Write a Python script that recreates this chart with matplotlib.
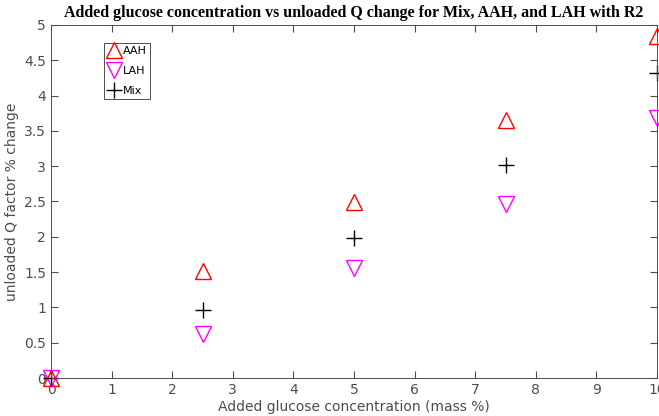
import numpy as np
import matplotlib
matplotlib.use('Agg')
from matplotlib import pyplot as plt

glucose = [0, 2.5, 5, 7.5, 10]  # added glucose (mass %)
aah = [0, 1.51, 2.49, 3.65, 4.85]
lah = [0, 0.63, 1.56, 2.46, 3.68]
mix = [0, 0.97, 1.98, 3.02, 4.32]

fig = plt.figure(figsize=(6.59, 4.16), dpi=100)
ax = fig.add_axes([51/659, 1-378/416, 606/659, 353/416])

ax.plot(glucose, aah, '^', ms=12, mfc='none', mec='red', mew=1, clip_on=False, label='AAH')
ax.plot(glucose, lah, 'v', ms=12, mfc='none', mec='magenta', mew=1, clip_on=False, label='LAH')
ax.plot(glucose, mix, '+', ms=12, color='black', mew=1, clip_on=False, label='Mix')

gray = '#4d4d4d'
ax.set_xlim(0, 10)
ax.set_ylim(0, 5)
ax.set_xticks(np.arange(0, 11, 1))
ax.set_yticks(np.arange(0, 5.01, 0.5))
ax.set_yticklabels(['0', '0.5', '1', '1.5', '2', '2.5', '3', '3.5', '4', '4.5', '5'])
ax.tick_params(direction='in', top=True, right=True, colors=gray, labelsize=10, length=5)
for s in ax.spines.values():
    s.set_color(gray)
    s.set_linewidth(0.7)

ax.set_xlabel('Added glucose concentration (mass %)', fontsize=10, color=gray, labelpad=2)
ax.set_ylabel('unloaded Q factor % change', fontsize=10, color=gray)
ax.set_title('Added glucose concentration vs unloaded Q change for Mix, AAH, and LAH with R2',
             fontsize=11.5, fontweight='bold', family='Liberation Serif', pad=6)

leg = ax.legend(loc='upper left', bbox_to_anchor=(0.087, 0.95), fontsize=8,
                handlelength=1.3, handletextpad=0.1, borderpad=0.3, labelspacing=0.9,
                borderaxespad=0, fancybox=False, edgecolor=gray, framealpha=1)
leg.get_frame().set_linewidth(0.7)

plt.savefig('out.png', dpi=100)
